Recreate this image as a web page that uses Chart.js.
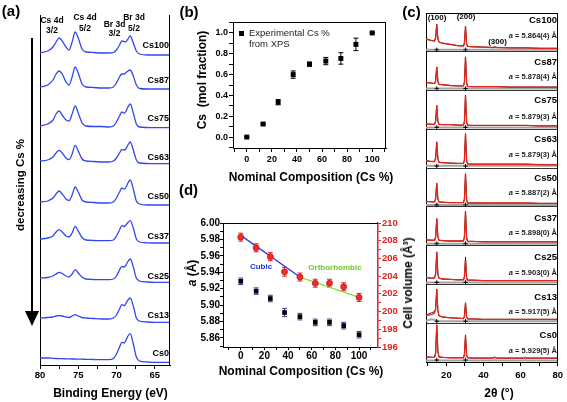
<!DOCTYPE html>
<html>
<head>
<meta charset="utf-8">
<title>XPS / XRD composition figure</title>
<script src="https://cdn.jsdelivr.net/npm/chart.js@4.4.1/dist/chart.umd.min.js"></script>
<style>
  html, body { margin: 0; padding: 0; background: #fff; }
  #fig { position: relative; width: 567px; height: 402px; overflow: hidden; background: #fff;
         font-family: 'Liberation Sans', Arial, sans-serif; }
  #fig canvas { position: absolute; }
  .lbl { position: absolute; white-space: nowrap; font-weight: bold; color: #000; line-height: 1; }
  #arrowLine { position: absolute; left: 30.5px; top: 38px; width: 2px; height: 276px; background: #000; }
  #arrowHead { position: absolute; left: 24.5px; top: 311px; width: 0; height: 0;
               border-left: 7px solid transparent; border-right: 7px solid transparent; border-top: 15px solid #000; }
  #legSq { position: absolute; left: 239px; top: 31px; width: 5px; height: 5px; background: #000; }
</style>
</head>
<body>
<div id="fig">
  <canvas id="xps" width="190" height="402" style="left:0;top:0"></canvas>
  <canvas id="frac" width="200" height="187" style="left:190px;top:0"></canvas>
  <canvas id="xrd" width="147" height="402" style="left:420px;top:0"></canvas>
  <canvas id="lat" width="233" height="192" style="left:185px;top:190px"></canvas>
  <div id="arrowLine"></div><div id="arrowHead"></div><div id="legSq"></div>
</div>
<script>
// ---- données ----
const samples = ['Cs100', 'Cs87', 'Cs75', 'Cs63', 'Cs50', 'Cs37', 'Cs25', 'Cs13', 'Cs0'];
const latticeText = ['5.864(4)', '5.878(4)', '5.879(3)', '5.879(3)', '5.887(2)', '5.898(0)', '5.903(0)', '5.917(5)', '5.929(5)'];

// (a) XPS, intensité relative (haut -> bas)
const bindingEnergy = [80, 79, 78.3, 77.9, 77.5, 77.1, 76.6, 76.2, 75.8, 75.4, 75.0, 74.5, 74, 73, 72, 71, 70.4, 70.0, 69.6, 69.3, 69.0, 68.8, 68.5, 68.2, 67.8, 67.4, 67, 66, 65, 64, 63];
const xpsCs100 = [0, 2, 6, 11, 15, 12, 6, 3, 11, 21, 15, 4, 1, 0.5, 0, 0, 0.5, 3, 8, 12, 11.5, 11, 14, 17, 10, 2, -1, -2, -2, -2, -2];
const xpsCs87 = [0, 2, 7, 13, 16, 13, 5, 2, 10, 20, 14, 3, 0, -0.5, -1, -1, 0, 4, 10, 13, 13, 14, 16, 17, 11, 2, -1.5, -2, -2, -2, -2];
const xpsCs75 = [0, 2, 6, 12, 15, 11, 6, 5, 12, 20, 13, 3, 0, -0.5, -0.5, -1, 0, 4, 10, 14, 13, 14, 19, 22, 13, 2, -1, -1.5, -1.7, -1.7, -1.7];
const xpsCs63 = [0, 1, 4, 8, 10.7, 8, 3, 1.3, 7, 15.7, 10, 2, 0, -0.5, -1, -1, 0, 3, 8, 11.3, 11, 12, 16, 19, 11, 1, -2, -2.5, -2.7, -2.7, -2.7];
const xpsCs50 = [0, 1, 4, 8, 11, 8, 3, 1.5, 7, 15, 10, 2, 0, -0.5, -1, -1, 0, 4, 10, 14, 13, 14, 19, 22, 13, 1, -2, -3, -3, -3, -3];
const xpsCs37 = [0, 1, 3, 7, 9.3, 7, 3, 2, 6, 12.7, 8, 1.5, -1, -1.5, -1.7, -1.7, -1, 3, 9, 13.3, 12.5, 13.5, 16.5, 18.3, 11, 0, -3, -3.8, -4, -4, -4];
const xpsCs25 = [0, 0.5, 2, 4, 5.7, 4.5, 2, 1, 4, 8.3, 5, 1, -1, -1.5, -1.7, -1.7, -1, 2, 8, 11.7, 11, 12.5, 16.5, 19, 11, 0, -3, -4, -4.3, -4.3, -4.3];
const xpsCs13 = [0, 0.5, 1, 2, 2.3, 2, 1, 0.5, 2, 3.3, 2, 0.5, 0, -0.5, -1, -1, 0, 3, 9, 13.3, 12.5, 14, 18, 20, 12, 0, -3, -4, -4.3, -4.3, -4.3];
const xpsCs0 = [0, 0, -0.3, -0.5, -0.6, -0.7, -0.8, -0.9, -1, -1, -1.1, -1.2, -1.3, -1.5, -1.7, -1.7, -0.5, 4, 11, 15.7, 15, 17, 22, 24.3, 14, 1, -3, -4, -4.3, -4.3, -4.3];
const xpsCurves = [xpsCs100, xpsCs87, xpsCs75, xpsCs63, xpsCs50, xpsCs37, xpsCs25, xpsCs13, xpsCs0];

// (b) fraction de Cs mesurée par XPS
const compCs = [0, 13, 25, 37, 50, 63, 75, 87, 100];
const xpsCsFraction = [0.0, 0.125, 0.335, 0.60, 0.70, 0.73, 0.755, 0.89, 1.0];
const xpsCsError = [0.005, 0.01, 0.025, 0.035, 0.02, 0.035, 0.055, 0.06, 0.005];

// (c) DRX : observé, calculé, différence
const twoTheta = [9, 12, 13.6, 14.2, 14.8, 15.4, 16, 18, 22, 26, 29.2, 29.7, 30.3, 30.9, 31.4, 34, 40, 45, 46, 47, 55, 62, 62.7, 63.4, 70, 80];
const braggPos = [14.8, 30.3];
const obsCs100 = [0.33, 0.29, 0.28, 0.37, 0.71, 0.33, 0.25, 0.22, 0.19, 0.16, 0.15, 0.23, 0.66, 0.20, 0.14, 0.13, 0.12, 0.11, 0.13, 0.11, 0.10, 0.10, 0.10, 0.10, 0.09, 0.09];
const fitCs100 = [0.33, 0.29, 0.28, 0.36, 0.70, 0.32, 0.25, 0.22, 0.19, 0.16, 0.15, 0.22, 0.65, 0.19, 0.14, 0.13, 0.12, 0.11, 0.12, 0.11, 0.10, 0.10, 0.10, 0.10, 0.09, 0.09];
const difCs100 = [0.05, 0.05, 0.05, 0.06, 0.06, 0.06, 0.05, 0.05, 0.05, 0.05, 0.05, 0.06, 0.06, 0.06, 0.05, 0.05, 0.05, 0.05, 0.06, 0.05, 0.05, 0.05, 0.05, 0.05, 0.05, 0.05];
const obsCs87 = [0.21, 0.19, 0.18, 0.26, 0.61, 0.24, 0.16, 0.15, 0.13, 0.12, 0.12, 0.22, 0.87, 0.20, 0.11, 0.10, 0.10, 0.10, 0.10, 0.10, 0.09, 0.09, 0.09, 0.09, 0.09, 0.09];
const fitCs87 = [0.21, 0.19, 0.18, 0.25, 0.60, 0.23, 0.16, 0.15, 0.13, 0.12, 0.12, 0.21, 0.86, 0.19, 0.11, 0.10, 0.10, 0.10, 0.10, 0.10, 0.09, 0.09, 0.09, 0.09, 0.09, 0.09];
const difCs87 = [0.05, 0.05, 0.05, 0.06, 0.06, 0.06, 0.05, 0.05, 0.05, 0.05, 0.05, 0.06, 0.06, 0.06, 0.05, 0.05, 0.05, 0.05, 0.05, 0.05, 0.05, 0.05, 0.05, 0.05, 0.05, 0.05];
const obsCs75 = [0.14, 0.13, 0.13, 0.22, 0.62, 0.21, 0.13, 0.12, 0.12, 0.11, 0.11, 0.20, 0.88, 0.19, 0.11, 0.10, 0.10, 0.10, 0.10, 0.10, 0.10, 0.10, 0.10, 0.10, 0.09, 0.09];
const fitCs75 = [0.14, 0.13, 0.13, 0.21, 0.61, 0.20, 0.13, 0.12, 0.12, 0.11, 0.11, 0.19, 0.87, 0.18, 0.11, 0.10, 0.10, 0.10, 0.10, 0.10, 0.10, 0.10, 0.10, 0.10, 0.09, 0.09];
const difCs75 = [0.05, 0.05, 0.05, 0.06, 0.06, 0.06, 0.05, 0.05, 0.05, 0.05, 0.05, 0.06, 0.06, 0.06, 0.05, 0.05, 0.05, 0.05, 0.05, 0.05, 0.05, 0.05, 0.05, 0.05, 0.05, 0.05];
const obsCs63 = [0.19, 0.17, 0.17, 0.27, 0.68, 0.25, 0.15, 0.14, 0.13, 0.12, 0.12, 0.21, 0.89, 0.20, 0.11, 0.10, 0.10, 0.10, 0.10, 0.10, 0.10, 0.10, 0.10, 0.10, 0.09, 0.09];
const fitCs63 = [0.19, 0.17, 0.17, 0.26, 0.67, 0.24, 0.15, 0.14, 0.13, 0.12, 0.12, 0.20, 0.88, 0.19, 0.11, 0.10, 0.10, 0.10, 0.10, 0.10, 0.10, 0.10, 0.10, 0.10, 0.09, 0.09];
const difCs63 = [0.06, 0.06, 0.06, 0.07, 0.07, 0.07, 0.06, 0.06, 0.06, 0.06, 0.06, 0.07, 0.07, 0.07, 0.06, 0.06, 0.06, 0.06, 0.06, 0.06, 0.06, 0.06, 0.06, 0.06, 0.06, 0.06];
const obsCs50 = [0.14, 0.13, 0.13, 0.22, 0.61, 0.21, 0.13, 0.12, 0.11, 0.11, 0.11, 0.20, 0.86, 0.19, 0.10, 0.10, 0.10, 0.10, 0.10, 0.10, 0.10, 0.10, 0.10, 0.10, 0.09, 0.09];
const fitCs50 = [0.14, 0.13, 0.13, 0.21, 0.60, 0.20, 0.13, 0.12, 0.11, 0.11, 0.11, 0.19, 0.85, 0.18, 0.10, 0.10, 0.10, 0.10, 0.10, 0.10, 0.10, 0.10, 0.10, 0.10, 0.09, 0.09];
const difCs50 = [0.05, 0.05, 0.05, 0.06, 0.06, 0.06, 0.05, 0.05, 0.05, 0.05, 0.05, 0.06, 0.06, 0.06, 0.05, 0.05, 0.05, 0.05, 0.05, 0.05, 0.05, 0.05, 0.05, 0.05, 0.05, 0.05];
const obsCs37 = [0.15, 0.14, 0.14, 0.24, 0.70, 0.23, 0.14, 0.13, 0.12, 0.12, 0.12, 0.22, 0.89, 0.20, 0.11, 0.11, 0.10, 0.10, 0.10, 0.10, 0.10, 0.10, 0.10, 0.10, 0.10, 0.10];
const fitCs37 = [0.15, 0.14, 0.14, 0.23, 0.69, 0.22, 0.14, 0.13, 0.12, 0.12, 0.12, 0.21, 0.88, 0.19, 0.11, 0.11, 0.10, 0.10, 0.10, 0.10, 0.10, 0.10, 0.10, 0.10, 0.10, 0.10];
const difCs37 = [0.05, 0.05, 0.05, 0.06, 0.06, 0.06, 0.05, 0.05, 0.05, 0.05, 0.05, 0.06, 0.06, 0.06, 0.05, 0.05, 0.05, 0.05, 0.05, 0.05, 0.05, 0.05, 0.05, 0.05, 0.05, 0.05];
const obsCs25 = [0.18, 0.16, 0.17, 0.28, 0.84, 0.27, 0.16, 0.14, 0.13, 0.12, 0.12, 0.20, 0.71, 0.18, 0.11, 0.11, 0.10, 0.10, 0.10, 0.10, 0.10, 0.10, 0.10, 0.10, 0.10, 0.10];
const fitCs25 = [0.18, 0.16, 0.17, 0.27, 0.83, 0.26, 0.16, 0.14, 0.13, 0.12, 0.12, 0.19, 0.62, 0.17, 0.11, 0.11, 0.10, 0.10, 0.10, 0.10, 0.10, 0.10, 0.10, 0.10, 0.10, 0.10];
const difCs25 = [0.05, 0.05, 0.05, 0.06, 0.06, 0.06, 0.05, 0.05, 0.05, 0.05, 0.05, 0.06, 0.08, 0.06, 0.05, 0.05, 0.05, 0.05, 0.05, 0.05, 0.05, 0.05, 0.05, 0.05, 0.05, 0.05];
const obsCs13 = [0.21, 0.27, 0.30, 0.38, 0.88, 0.33, 0.19, 0.16, 0.14, 0.13, 0.12, 0.18, 0.53, 0.16, 0.11, 0.11, 0.10, 0.10, 0.10, 0.10, 0.10, 0.10, 0.10, 0.10, 0.10, 0.10];
const fitCs13 = [0.20, 0.22, 0.26, 0.36, 0.87, 0.32, 0.19, 0.16, 0.14, 0.13, 0.12, 0.17, 0.52, 0.15, 0.11, 0.11, 0.10, 0.10, 0.10, 0.10, 0.10, 0.10, 0.10, 0.10, 0.10, 0.10];
const difCs13 = [0.06, 0.10, 0.09, 0.07, 0.06, 0.06, 0.05, 0.05, 0.05, 0.05, 0.05, 0.06, 0.06, 0.06, 0.05, 0.05, 0.05, 0.05, 0.05, 0.05, 0.05, 0.05, 0.05, 0.05, 0.05, 0.05];
const obsCs0 = [0.13, 0.12, 0.12, 0.24, 0.96, 0.28, 0.13, 0.12, 0.11, 0.11, 0.11, 0.20, 0.70, 0.18, 0.11, 0.10, 0.10, 0.10, 0.13, 0.10, 0.10, 0.10, 0.12, 0.10, 0.10, 0.10];
const fitCs0 = [0.13, 0.12, 0.12, 0.23, 0.95, 0.27, 0.13, 0.12, 0.11, 0.11, 0.11, 0.19, 0.68, 0.17, 0.11, 0.10, 0.10, 0.10, 0.12, 0.10, 0.10, 0.10, 0.11, 0.10, 0.10, 0.10];
const difCs0 = [0.04, 0.04, 0.04, 0.05, 0.05, 0.05, 0.04, 0.04, 0.04, 0.04, 0.04, 0.05, 0.06, 0.05, 0.04, 0.04, 0.04, 0.04, 0.05, 0.04, 0.04, 0.04, 0.05, 0.04, 0.04, 0.04];
const xrdObs = [obsCs100, obsCs87, obsCs75, obsCs63, obsCs50, obsCs37, obsCs25, obsCs13, obsCs0];
const xrdFit = [fitCs100, fitCs87, fitCs75, fitCs63, fitCs50, fitCs37, fitCs25, fitCs13, fitCs0];
const xrdDif = [difCs100, difCs87, difCs75, difCs63, difCs50, difCs37, difCs25, difCs13, difCs0];

// (d) paramètre de maille et volume
const latticeA = [5.929, 5.917, 5.908, 5.891, 5.886, 5.879, 5.879, 5.875, 5.864];
const latticeAErr = [0.004, 0.004, 0.004, 0.005, 0.004, 0.004, 0.004, 0.004, 0.004];
const cellVolume = [208.4, 207.2, 206.2, 204.5, 203.9, 203.2, 203.2, 202.8, 201.6];
const cellVolumeErr = [0.45, 0.45, 0.45, 0.5, 0.45, 0.45, 0.45, 0.45, 0.45];
const cubicFitX = [0, 50];
const cubicFitV = [208.6, 203.9];
const orthoFitX = [50, 100];
const orthoFitV = [203.9, 201.6];

// ---- mise en page ----
const xpsOffset = [312, 278, 239, 204, 163, 126, 87, 47, 7];
const xpsNameY = [45, 80, 118, 157, 196, 236, 276, 315, 353];
const xrdNameY = [20, 61.5, 100, 138.5, 178, 218, 257, 296.5, 335];
const xrdLatY = [36, 77.3, 116.7, 155, 193.3, 233.3, 272.7, 311.7, 350.7];
const braggLevel = 0.05;

Chart.defaults.font.family = "'Liberation Sans', Arial, sans-serif";
Chart.defaults.font.weight = 'bold';
Chart.defaults.color = '#000';
Chart.defaults.animation = false;
Chart.defaults.plugins.legend.display = false;
Chart.defaults.plugins.tooltip.enabled = false;

// cadre (côtés haut / droite)
const framePlugin = {
    id: 'frame',
    afterDraw(chart, args, opts) {
        const { ctx, chartArea: a } = chart;
        ctx.save();
        ctx.strokeStyle = opts.color || '#000';
        ctx.lineWidth = 1;
        ctx.beginPath();
        (opts.sides || []).forEach(s => {
            if (s === 'top') { ctx.moveTo(a.left, Math.round(a.top) + 0.5); ctx.lineTo(a.right, Math.round(a.top) + 0.5); }
            if (s === 'right') { ctx.moveTo(Math.round(a.right) - 0.5, a.top); ctx.lineTo(Math.round(a.right) - 0.5, a.bottom); }
        });
        ctx.stroke();
        ctx.restore();
    }
};

// barres d'erreur verticales
const errorBarPlugin = {
    id: 'errorBars',
    beforeDatasetsDraw(chart) {
        const ctx = chart.ctx;
        chart.data.datasets.forEach((ds, i) => {
            if (!ds.errors) return;
            const meta = chart.getDatasetMeta(i);
            const ys = chart.scales[meta.yAxisID];
            ctx.save();
            ctx.strokeStyle = ds.errorColor || '#000';
            ctx.lineWidth = 1;
            meta.data.forEach((pt, j) => {
                const v = ds.data[j].y, e = ds.errors[j];
                const y1 = ys.getPixelForValue(v - e), y2 = ys.getPixelForValue(v + e);
                ctx.beginPath();
                ctx.moveTo(pt.x, y1); ctx.lineTo(pt.x, y2);
                ctx.moveTo(pt.x - 2.5, y1); ctx.lineTo(pt.x + 2.5, y1);
                ctx.moveTo(pt.x - 2.5, y2); ctx.lineTo(pt.x + 2.5, y2);
                ctx.stroke();
            });
            ctx.restore();
        });
    }
};

// (a) spectres XPS empilés
new Chart(document.getElementById('xps'), {
    type: 'scatter',
    data: {
        datasets: samples.map((name, i) => ({
            label: name,
            data: bindingEnergy.map((e, k) => ({ x: e, y: xpsCurves[i][k] + xpsOffset[i] })),
            showLine: true,
            borderColor: '#3247ef',
            borderWidth: 1.3,
            pointRadius: 0,
            cubicInterpolationMode: 'monotone'
        }))
    },
    options: {
        responsive: false,
        layout: { padding: { top: 15, right: 20, left: 0, bottom: 0 } },
        scales: {
            x: {
                type: 'linear', reverse: true, min: 63, max: 80,
                ticks: { stepSize: 2.5, includeBounds: false, autoSkip: false, maxRotation: 0, padding: 0.5,
                         font: { size: 9.5 }, callback: v => (v % 5 === 0 ? v : '') },
                grid: { drawOnChartArea: false, tickLength: 4, color: '#000' },
                border: { color: '#000' },
                afterFit: s => { s.height = 37; }
            },
            y: {
                min: 0, max: 350,
                ticks: { display: false },
                grid: { display: false },
                border: { color: '#000' },
                afterFit: s => { s.width = 40; }
            }
        },
        plugins: { frame: { sides: ['right'] } }
    },
    plugins: [framePlugin]
});

// (b) fraction Cs
new Chart(document.getElementById('frac'), {
    type: 'scatter',
    data: {
        datasets: [{
            label: 'Experimental Cs % from XPS',
            data: compCs.map((c, i) => ({ x: c, y: xpsCsFraction[i] })),
            errors: xpsCsError,
            errorColor: '#000',
            pointStyle: 'rect',
            pointRadius: 3.5,
            backgroundColor: '#000',
            borderColor: '#000',
            borderWidth: 0
        }]
    },
    options: {
        responsive: false,
        layout: { padding: { top: 22, right: 1, left: 0, bottom: 0 } },
        scales: {
            x: {
                type: 'linear', min: -11, max: 111,
                ticks: { stepSize: 10, includeBounds: false, autoSkip: false, maxRotation: 0, padding: 2.5,
                         font: { size: 9 }, callback: v => (v >= 0 && v <= 100 && v % 20 === 0 ? v : '') },
                grid: { drawOnChartArea: false, tickLength: 4, color: '#000' },
                border: { color: '#000' },
                afterFit: s => { s.height = 39; }
            },
            y: {
                min: -0.105, max: 1.105,
                ticks: { stepSize: 0.1, includeBounds: false, autoSkip: false, padding: 1, font: { size: 9 },
                         callback: v => { const r = Math.round(v * 10); return r >= 0 && r % 2 === 0 ? v.toFixed(1) : ''; } },
                grid: { drawOnChartArea: false, tickLength: 4, color: '#000' },
                border: { color: '#000' },
                afterFit: s => { s.width = 43; }
            }
        },
        plugins: { frame: { sides: ['top', 'right'] } }
    },
    plugins: [framePlugin, errorBarPlugin]
});

// (c) diffractogrammes empilés
const xrdSets = [];
samples.forEach((name, i) => {
    const off = samples.length - 1 - i;
    xrdSets.push({ label: name + ' calc', data: twoTheta.map((t, k) => ({ x: t, y: xrdFit[i][k] + off })),
                   showLine: true, borderColor: '#e3241b', borderWidth: 1.3, pointRadius: 0, order: 1 });
    xrdSets.push({ label: name + ' obs', data: twoTheta.map((t, k) => ({ x: t, y: xrdObs[i][k] + off })),
                   showLine: true, borderColor: '#222', borderWidth: 1, pointRadius: 0, order: 2 });
    xrdSets.push({ label: name + ' diff', data: twoTheta.map((t, k) => ({ x: t, y: xrdDif[i][k] + off })),
                   showLine: true, borderColor: '#a3a3a3', borderWidth: 2, pointRadius: 0, order: 3 });
    xrdSets.push({ label: name + ' Bragg', data: braggPos.map(t => ({ x: t, y: off + braggLevel })),
                   showLine: false, pointStyle: 'cross', pointRadius: 2.2, borderColor: '#000', borderWidth: 1, order: 0 });
});
new Chart(document.getElementById('xrd'), {
    type: 'scatter',
    data: { datasets: xrdSets },
    options: {
        responsive: false,
        layout: { padding: { top: 13, right: 8, left: 6, bottom: 0 } },
        scales: {
            x: {
                type: 'linear', min: 9, max: 80,
                ticks: { stepSize: 10, includeBounds: false, autoSkip: false, maxRotation: 0, padding: 4,
                         font: { size: 9.5 }, callback: v => (v % 20 === 0 ? v : '') },
                grid: { drawOnChartArea: false, tickLength: 4, color: '#000' },
                border: { color: '#000' },
                afterFit: s => { s.height = 40; }
            },
            y: {
                min: 0, max: 9,
                ticks: { display: false, stepSize: 1 },
                grid: { color: '#333', drawTicks: false },
                border: { color: '#000' },
                afterFit: s => { s.width = 0; }
            }
        },
        plugins: { frame: { sides: ['top', 'right'] } }
    },
    plugins: [framePlugin]
});

// (d) paramètre a et volume de maille
new Chart(document.getElementById('lat'), {
    type: 'scatter',
    data: {
        datasets: [
            { label: 'Cubic', data: cubicFitX.map((x, i) => ({ x: x, y: cubicFitV[i] })), yAxisID: 'y2',
              showLine: true, borderColor: '#2a3ae6', borderWidth: 1.3, pointRadius: 0, order: 2 },
            { label: 'Orthorhombic', data: orthoFitX.map((x, i) => ({ x: x, y: orthoFitV[i] })), yAxisID: 'y2',
              showLine: true, borderColor: '#86e03a', borderWidth: 1.3, pointRadius: 0, order: 2 },
            { label: 'Cell volume', data: compCs.map((c, i) => ({ x: c, y: cellVolume[i] })), yAxisID: 'y2',
              errors: cellVolumeErr, errorColor: '#e02020',
              pointStyle: 'circle', pointRadius: 3, backgroundColor: '#ee2b2b', borderColor: '#c81818', borderWidth: 0.8, order: 1 },
            { label: 'a', data: compCs.map((c, i) => ({ x: c, y: latticeA[i] })), yAxisID: 'y',
              errors: latticeAErr, errorColor: '#3b3bb5',
              pointStyle: 'rect', pointRadius: 3.3, backgroundColor: '#000', borderColor: '#000', borderWidth: 0, order: 0 }
        ]
    },
    options: {
        responsive: false,
        layout: { padding: { top: 33, right: 0, left: 0, bottom: 0 } },
        scales: {
            x: {
                type: 'linear', min: -15, max: 116,
                ticks: { stepSize: 10, includeBounds: false, autoSkip: false, maxRotation: 0, padding: 0,
                         font: { size: 10 }, callback: v => (v >= 0 && v <= 100 && v % 20 === 0 ? v : '') },
                grid: { drawOnChartArea: false, tickLength: 3, color: '#000' },
                border: { color: '#000' },
                afterFit: s => { s.height = 35; }
            },
            y: {
                position: 'left', min: 5.849, max: 6.0,
                ticks: { stepSize: 0.01, includeBounds: false, autoSkip: false, padding: 0, font: { size: 10 },
                         callback: v => (Math.round(v * 100) % 2 === 0 ? v.toFixed(2) : '') },
                grid: { drawOnChartArea: false, tickLength: 3, color: '#000' },
                border: { color: '#000' },
                afterFit: s => { s.width = 38; }
            },
            y2: {
                position: 'right', min: 196, max: 210,
                ticks: { stepSize: 1, includeBounds: false, autoSkip: false, padding: 1, color: '#e02020', font: { size: 9.5 },
                         callback: v => (v % 2 === 0 ? v : '') },
                grid: { drawOnChartArea: false, tickLength: 3, color: '#e02020' },
                border: { color: '#e02020', width: 1.5 },
                afterFit: s => { s.width = 40; }
            }
        },
        plugins: { frame: { sides: ['top'] } }
    },
    plugins: [framePlugin, errorBarPlugin]
});

// ---- textes ----
const fig = document.getElementById('fig');
function addLabel(html, x, y, o = {}) {
    const el = document.createElement('div');
    el.className = 'lbl';
    el.innerHTML = html;
    el.style.fontSize = (o.size || 9) + 'px';
    if (o.color) el.style.color = o.color;
    if (o.weight) el.style.fontWeight = o.weight;
    el.style.left = x + 'px';
    el.style.top = y + 'px';
    const tx = o.align === 'left' ? '0' : (o.align === 'right' ? '-100%' : '-50%');
    el.style.transform = 'translate(' + tx + ', -50%)' + (o.rotate ? ' rotate(' + o.rotate + 'deg)' : '');
    fig.appendChild(el);
}

addLabel('(a)', 11, 10, { size: 15 });
addLabel('(b)', 189, 11, { size: 15 });
addLabel('(c)', 411.5, 10.5, { size: 15 });
addLabel('(d)', 188.5, 189, { size: 15 });

// (a)
[['Cs 4d', 52, 20], ['3/2', 52, 30], ['Cs 4d', 85, 17], ['5/2', 85, 28],
 ['Br 3d', 114.5, 24], ['3/2', 114.5, 33], ['Br 3d', 134, 17], ['5/2', 134, 28]]
    .forEach(p => addLabel(p[0], p[1], p[2], { size: 8.5 }));
samples.forEach((name, i) => addLabel(name, 169, xpsNameY[i], { size: 9, align: 'right' }));
addLabel('decreasing Cs %', 20.5, 185, { size: 11.5, rotate: -90 });
addLabel('Binding Energy (eV)', 110.5, 393, { size: 12 });

// (b)
addLabel('Cs&nbsp;&nbsp;(mol fraction)', 202, 80, { size: 12, rotate: -90 });
addLabel('Nominal Composition (Cs %)', 311, 177, { size: 12 });
addLabel('Experimental Cs %', 249, 32.7, { size: 9.5, align: 'left', weight: 'normal', color: '#222' });
addLabel('from XPS', 249, 43.5, { size: 9.5, align: 'left', weight: 'normal', color: '#222' });

// (c)
addLabel('(100)', 437, 18, { size: 8 });
addLabel('(200)', 466, 17, { size: 8 });
addLabel('(300)', 497.5, 42, { size: 8 });
samples.forEach((name, i) => {
    addLabel(name, 557, xrdNameY[i], { size: 9.5, align: 'right' });
    addLabel('<i>a</i> = ' + latticeText[i] + ' Å', 557, xrdLatY[i], { size: 7.5, align: 'right', color: '#222' });
});
addLabel('2θ (°)', 499, 393, { size: 12 });

// (d)
addLabel('<i>a</i> (Å)', 191.5, 273, { size: 12, rotate: -90 });
addLabel('Cell volume (Å³)', 408, 283, { size: 12, rotate: -90 });
addLabel('Nominal Composition (Cs %)', 301, 371, { size: 12 });
addLabel('Cubic', 261, 267, { size: 8, color: '#2233dd' });
addLabel('Orthorhombic', 335, 268, { size: 8, color: '#66cc22' });
</script>
</body>
</html>
